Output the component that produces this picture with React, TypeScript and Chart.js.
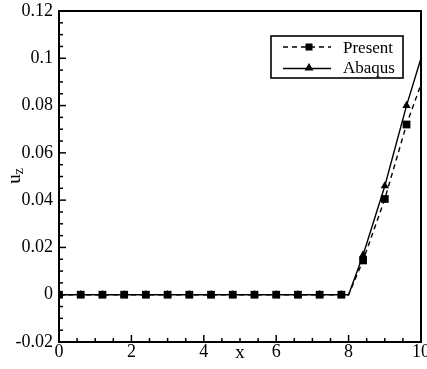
import React, { useEffect, useRef } from "react";
import { Chart, registerables } from "chart.js";

Chart.register(...registerables);

const xValues = [0, 0.6, 1.2, 1.8, 2.4, 3.0, 3.6, 4.2, 4.8, 5.4, 6.0, 6.6, 7.2, 7.8, 8.0, 8.4, 9.0, 9.6, 10];
const presentValues = [0, 0, 0, 0, 0, 0, 0, 0, 0, 0, 0, 0, 0, 0, 0, 0.0145, 0.0405, 0.072, 0.089];
const abaqusValues = [0, 0, 0, 0, 0, 0, 0, 0, 0, 0, 0, 0, 0, 0, 0, 0.0168, 0.046, 0.08, 0.1];
const markerX = [0, 0.6, 1.2, 1.8, 2.4, 3.0, 3.6, 4.2, 4.8, 5.4, 6.0, 6.6, 7.2, 7.8, 8.4, 9.0, 9.6];
const seriesNames = ["Present", "Abaqus"];
const xTickLabels = ["0", "2", "4", "6", "8", "10"];
const yTickLabels = ["-0.02", "0", "0.02", "0.04", "0.06", "0.08", "0.1", "0.12"];

const FONT = "'Liberation Serif', 'Times New Roman', serif";

const isMarker = (x: number) => markerX.some((m) => Math.abs(m - x) < 1e-6);

const decorPlugin = {
  id: "decor",
  afterDraw(chart: any) {
    const ctx = chart.ctx;
    const a = chart.chartArea;
    const xs = chart.scales.x;
    const ys = chart.scales.y;
    ctx.save();
    ctx.strokeStyle = "#000";
    ctx.lineWidth = 2;
    ctx.strokeRect(a.left, a.top, a.right - a.left, a.bottom - a.top);
    ctx.lineWidth = 1.5;
    for (let i = 0; i <= 20; i++) {
      const v = i * 0.5;
      const px = xs.getPixelForValue(v);
      const len = i % 4 === 0 ? 7 : 4;
      ctx.beginPath();
      ctx.moveTo(px, a.bottom);
      ctx.lineTo(px, a.bottom - len);
      ctx.stroke();
    }
    for (let i = 0; i <= 28; i++) {
      const v = -0.02 + i * 0.005;
      const py = ys.getPixelForValue(v);
      const len = i % 4 === 0 ? 7 : 4;
      ctx.beginPath();
      ctx.moveTo(a.left, py);
      ctx.lineTo(a.left + len, py);
      ctx.stroke();
    }
    ctx.fillStyle = "#000";
    ctx.font = `19px ${FONT}`;
    ctx.textAlign = "center";
    ctx.textBaseline = "alphabetic";
    ctx.fillText("x", (a.left + a.right) / 2, 358);
    ctx.save();
    ctx.translate(20, 176);
    ctx.rotate(-Math.PI / 2);
    ctx.textAlign = "left";
    ctx.font = `19px ${FONT}`;
    const uw = ctx.measureText("u").width;
    ctx.font = `14px ${FONT}`;
    const zw = ctx.measureText("z").width;
    const start = -(uw + zw) / 2;
    ctx.font = `19px ${FONT}`;
    ctx.fillText("u", start, 0);
    ctx.font = `14px ${FONT}`;
    ctx.fillText("z", start + uw, 3);
    ctx.restore();
    // legend
    ctx.lineWidth = 1.6;
    ctx.strokeRect(271, 36, 132, 42);
    ctx.font = `17px ${FONT}`;
    ctx.textAlign = "left";
    ctx.textBaseline = "alphabetic";
    ctx.lineWidth = 1.4;
    ctx.setLineDash([5, 4]);
    ctx.beginPath();
    ctx.moveTo(283, 47);
    ctx.lineTo(331, 47);
    ctx.stroke();
    ctx.setLineDash([]);
    ctx.fillRect(305.5, 43.5, 7, 7);
    ctx.fillText(seriesNames[0], 343, 52.5);
    ctx.beginPath();
    ctx.moveTo(283, 68.5);
    ctx.lineTo(331, 68.5);
    ctx.stroke();
    ctx.beginPath();
    ctx.moveTo(309, 63);
    ctx.lineTo(313.5, 70.5);
    ctx.lineTo(304.5, 70.5);
    ctx.closePath();
    ctx.fill();
    ctx.fillText(seriesNames[1], 343, 72.5);
    ctx.restore();
  },
};

export default function App() {
  const ref = useRef<HTMLCanvasElement>(null);
  useEffect(() => {
    if (!ref.current) return;
    const radiusFor = (size: number) => (c: any) => (isMarker(xValues[c.dataIndex]) ? size : 0);
    const chart = new Chart(ref.current, {
      type: "line",
      data: {
        datasets: [
          {
            label: seriesNames[0],
            data: xValues.map((x, i) => ({ x, y: presentValues[i] })),
            borderColor: "#000",
            backgroundColor: "#000",
            borderWidth: 1.4,
            borderDash: [5, 4],
            pointStyle: "rect",
            pointRadius: radiusFor(5.5),
            pointBorderWidth: 0,
            pointBackgroundColor: "#000",
            tension: 0,
          },
          {
            label: seriesNames[1],
            data: xValues.map((x, i) => ({ x, y: abaqusValues[i] })),
            borderColor: "#000",
            backgroundColor: "#000",
            borderWidth: 1.4,
            pointStyle: "triangle",
            pointRadius: radiusFor(4.8),
            pointBorderWidth: 0,
            pointBackgroundColor: "#000",
            tension: 0,
          },
        ],
      },
      options: {
        animation: false,
        responsive: false,
        maintainAspectRatio: false,
        layout: { padding: { top: 11, right: 6, left: 0, bottom: 0 } },
        plugins: { legend: { display: false }, tooltip: { enabled: false } },
        scales: {
          x: {
            type: "linear",
            min: 0,
            max: 10,
            grid: { display: false, drawTicks: false },
            border: { display: false },
            afterBuildTicks: (s: any) => {
              s.ticks = xTickLabels.map((t) => ({ value: Number(t) }));
            },
            afterFit: (s: any) => {
              s.height = 27;
              s.paddingLeft = 0;
              s.paddingRight = 0;
            },
            ticks: {
              color: "#000",
              font: { family: FONT, size: 18 },
              padding: -1,
              maxRotation: 0,
              autoSkip: false,
              callback: (v: any) => String(v),
            },
          },
          y: {
            type: "linear",
            min: -0.02,
            max: 0.12,
            grid: { display: false, drawTicks: false },
            border: { display: false },
            afterBuildTicks: (s: any) => {
              s.ticks = yTickLabels.map((t) => ({ value: Number(t) }));
            },
            afterFit: (s: any) => {
              s.width = 59;
              s.paddingTop = 0;
              s.paddingBottom = 0;
            },
            ticks: {
              color: "#000",
              font: { family: FONT, size: 18 },
              padding: 6,
              autoSkip: false,
              callback: (v: any) => {
                const n = Number(v);
                const match = yTickLabels.find((t) => Math.abs(Number(t) - n) < 1e-9);
                return match ?? String(n);
              },
            },
          },
        },
      },
      plugins: [decorPlugin],
    });
    return () => chart.destroy();
  }, []);
  return (
    <div style={{ position: "absolute", left: 0, top: 0, width: 427, height: 369, background: "#fff" }}>
      <canvas ref={ref} width={427} height={369} style={{ width: 427, height: 369 }} />
    </div>
  );
}
